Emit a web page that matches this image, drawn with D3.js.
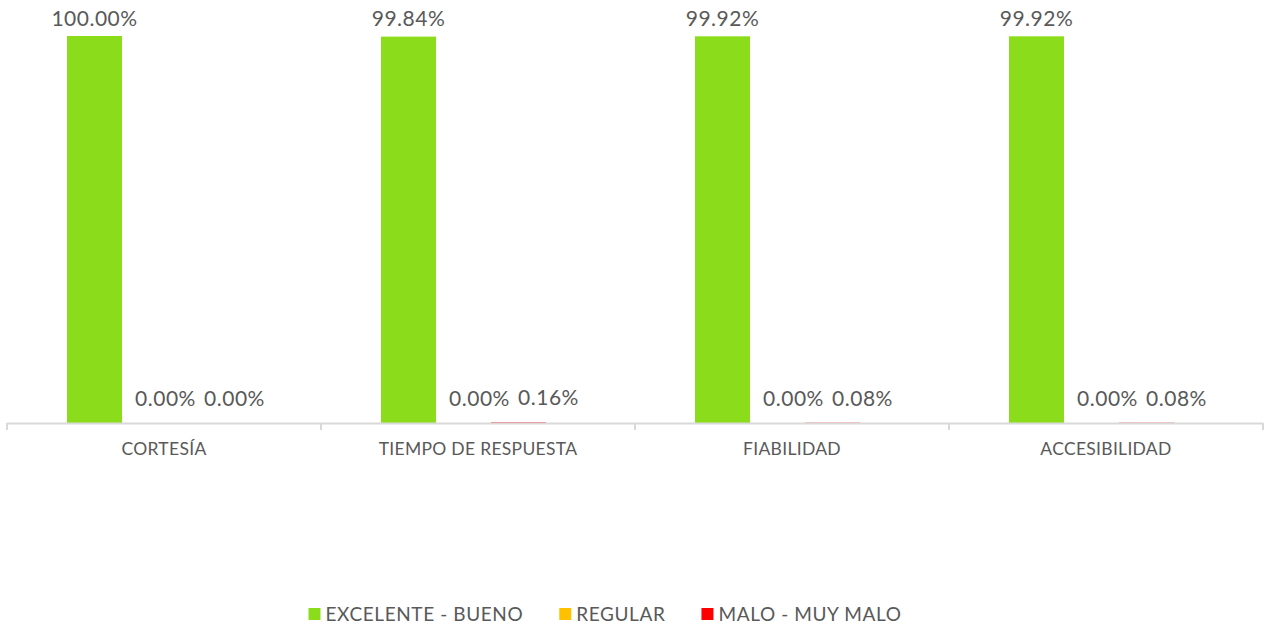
<!DOCTYPE html>
<html>
<head>
<meta charset="utf-8">
<script src="https://cdn.jsdelivr.net/npm/d3@7"></script>
<style>
  body { margin: 0; background: #fff; }
  text { font-family: Lato, "Open Sans", sans-serif; fill: #595959; }
</style>
</head>
<body>
<div class="canvas"></div>
<script>
// data
const categories = ['CORTESÍA', 'TIEMPO DE RESPUESTA', 'FIABILIDAD', 'ACCESIBILIDAD'];
const seriesNames = ['EXCELENTE - BUENO', 'REGULAR', 'MALO - MUY MALO'];
const excelenteBueno = [1.0, 0.9984, 0.9992, 0.9992];
const regular = [0, 0, 0, 0];
const maloMuyMalo = [0, 0.0016, 0.0008, 0.0008];
const seriesValues = [excelenteBueno, regular, maloMuyMalo];

const dims = { width: 1264, height: 628 };
const plot = { left: 7, right: 1263, top: 36, bottom: 423 };

const colour = d3.scaleOrdinal()
  .domain(seriesNames)
  .range(['#8bdd1b', '#ffc000', '#ff0000']);

const svg = d3.select('.canvas')
  .append('svg')
  .attr('width', dims.width)
  .attr('height', dims.height);

// scales
const x = d3.scaleBand()
  .domain(categories)
  .range([plot.left, plot.right])
  .padding(0);

const xSub = d3.scaleBand()
  .domain(seriesNames)
  .range([60, 225])
  .padding(0);

const y = d3.scaleLinear()
  .domain([0, 1])
  .range([plot.bottom, plot.top]);

// flatten into rows
const rows = [];
categories.forEach((c, i) => {
  seriesNames.forEach((s, j) => {
    rows.push({ cat: c, series: s, idx: j, value: seriesValues[j][i] });
  });
});

// bars
svg.append('g').selectAll('rect')
  .data(rows)
  .enter().append('rect')
    .attr('x', d => x(d.cat) + xSub(d.series))
    .attr('y', d => y(d.value))
    .attr('width', xSub.bandwidth())
    .attr('height', d => y(0) - y(d.value))
    .attr('fill', d => colour(d.series));

// axis line + ticks
const axis = svg.append('g')
  .attr('transform', `translate(0, ${plot.bottom})`)
  .call(d3.axisBottom(x).tickSize(0).tickFormat(''));
axis.select('.domain').remove();
axis.append('line')
  .attr('x1', plot.left).attr('x2', plot.right)
  .attr('y1', 0.5).attr('y2', 0.5)
  .attr('stroke', '#d9d9d9').attr('stroke-width', 2);
const tickPos = categories.map(c => x(c)).concat([x(categories[categories.length - 1]) + x.bandwidth()]);
axis.selectAll('.sep')
  .data(tickPos)
  .enter().append('line')
    .attr('x1', d => d).attr('x2', d => d)
    .attr('y1', 0).attr('y2', 7)
    .attr('stroke', '#d9d9d9').attr('stroke-width', 2);

// category labels
svg.append('g').selectAll('text')
  .data(categories)
  .enter().append('text')
    .attr('x', d => x(d) + x.bandwidth() / 2)
    .attr('y', plot.bottom + 32)
    .attr('text-anchor', 'middle')
    .attr('font-size', 17.5)
    .attr('letter-spacing', 0.3)
    .text(d => d);

// data labels (excel nudges the zero-height labels to the right, and keeps the top ones inside)
const labelShift = [0, 16, 30];
const fmt = d3.format('.2%');
svg.append('g').selectAll('text')
  .data(rows)
  .enter().append('text')
    .attr('x', d => x(d.cat) + xSub(d.series) + xSub.bandwidth() / 2 + labelShift[d.idx])
    .attr('y', d => Math.max(y(d.value) - 17, 26))
    .attr('text-anchor', 'middle')
    .attr('font-size', 21)
    .attr('letter-spacing', 0.5)
    .text(d => fmt(d.value));

// legend
const legendGroup = svg.append('g');
let lx = 0;
seriesNames.forEach(s => {
  const g = legendGroup.append('g').attr('transform', `translate(${lx}, 0)`);
  g.append('rect')
    .attr('x', 0).attr('y', -13)
    .attr('width', 12).attr('height', 12)
    .attr('fill', colour(s));
  const t = g.append('text')
    .attr('x', 17).attr('y', 0)
    .attr('font-size', 19)
    .attr('letter-spacing', 0.6)
    .text(s);
  lx += 17 + t.node().getComputedTextLength() + 36;
});
const legendWidth = lx - 36;
legendGroup.attr('transform', `translate(${605 - legendWidth / 2}, 621)`);
</script>
</body>
</html>
